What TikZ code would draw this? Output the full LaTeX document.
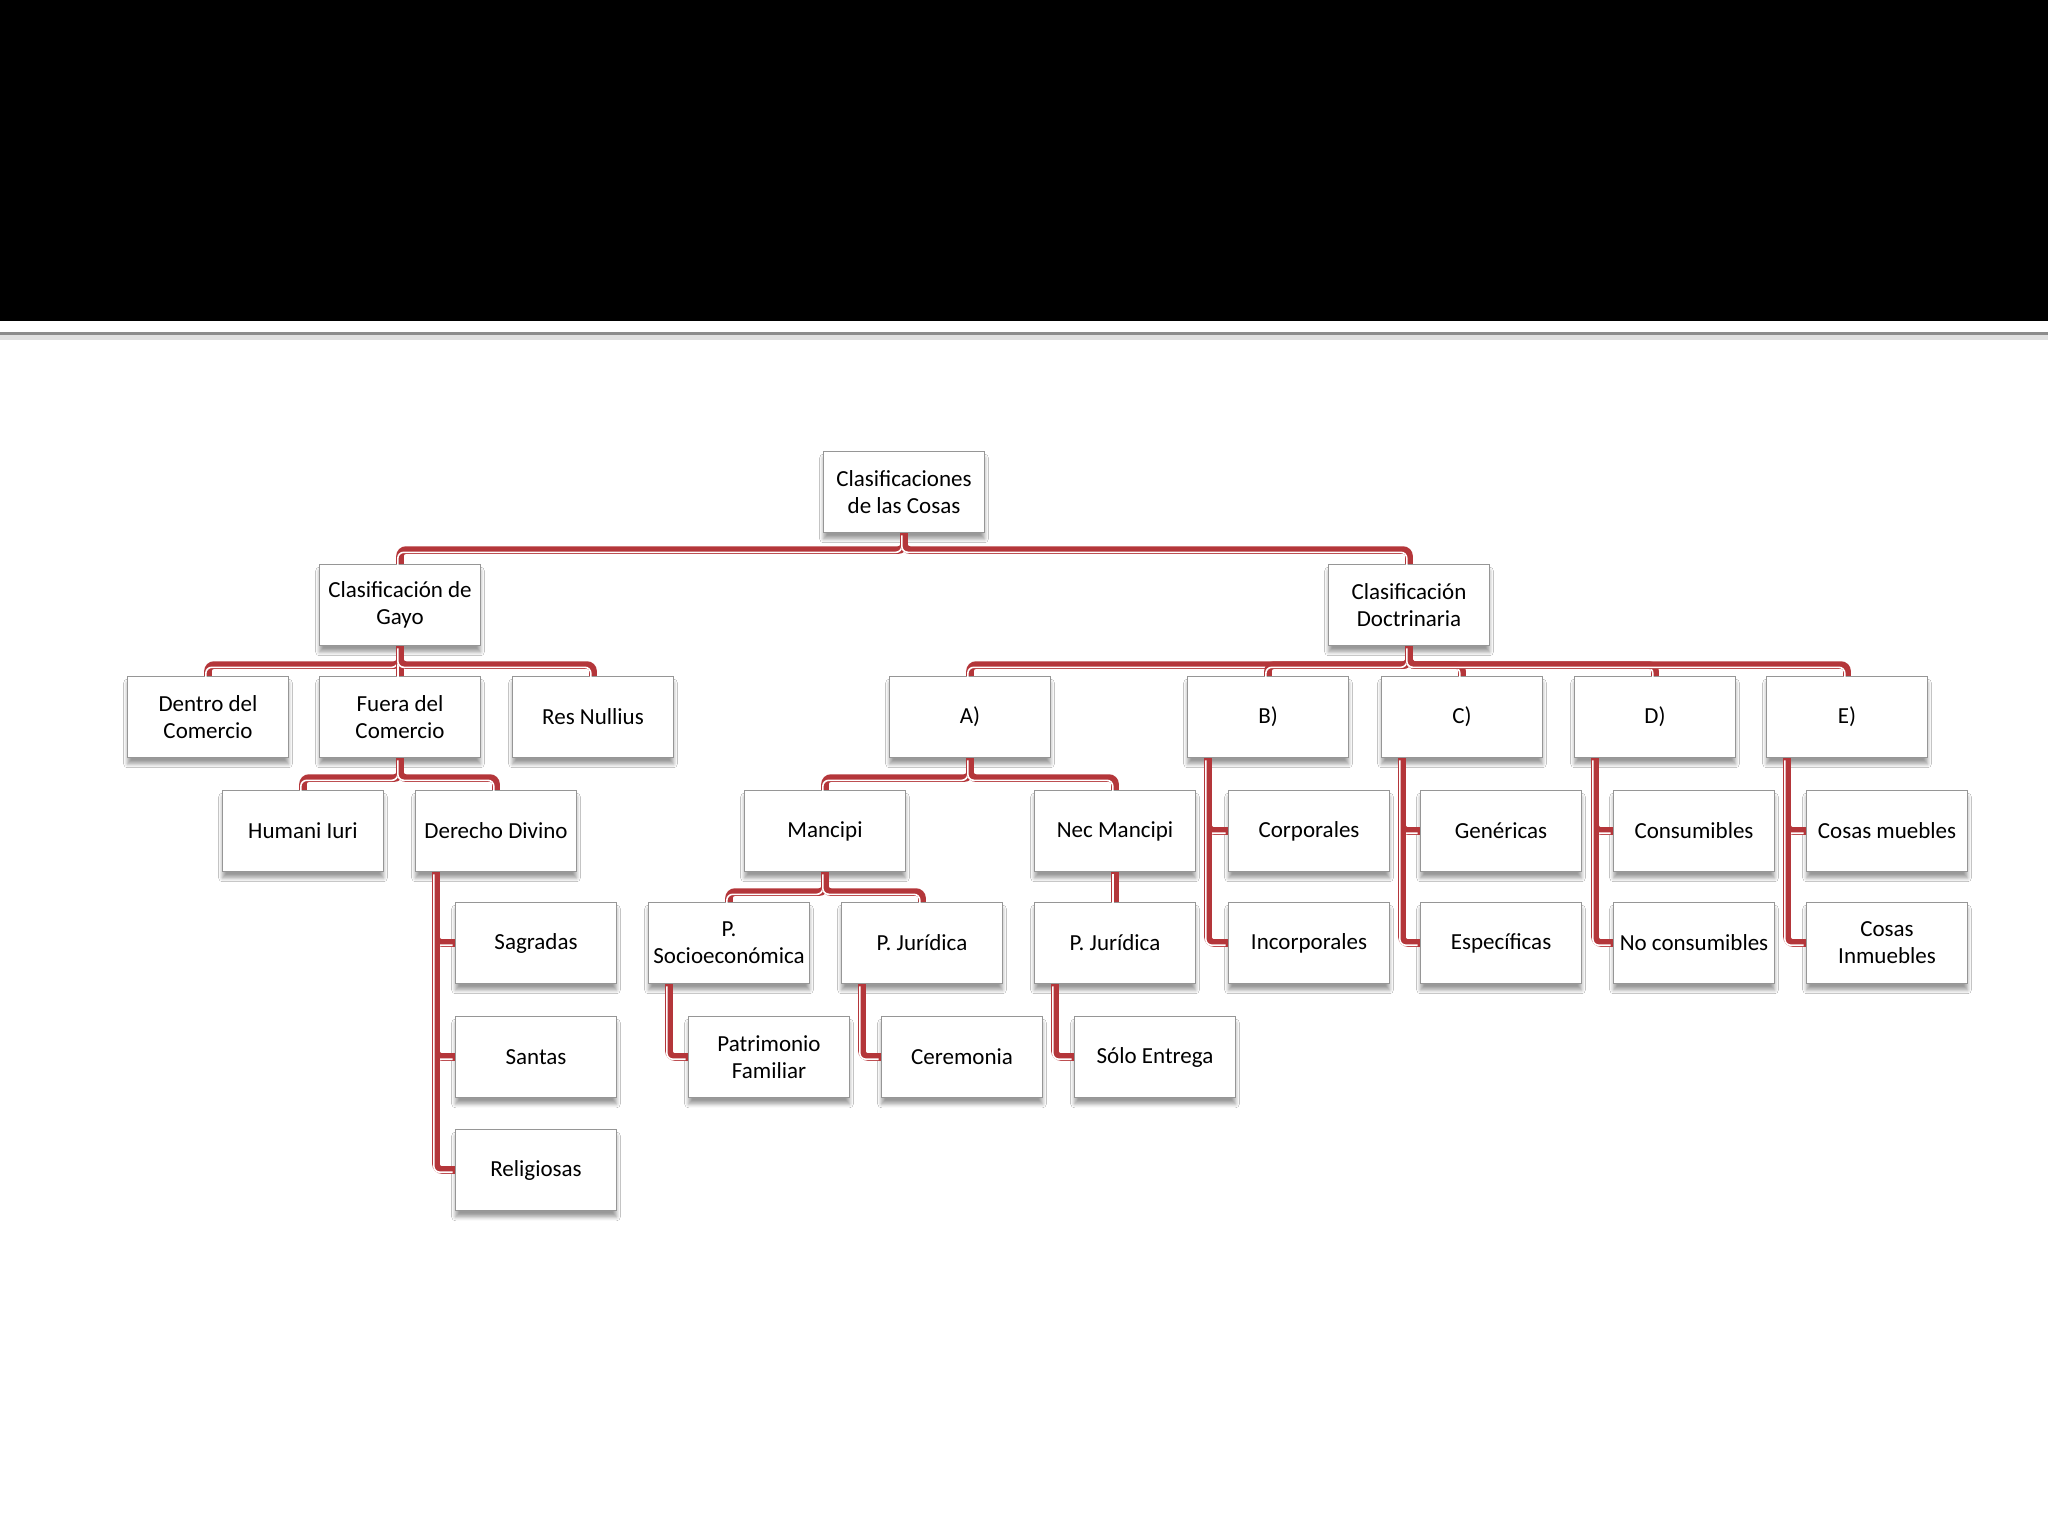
\documentclass[tikz,border=0pt]{standalone}
\usepackage{fontspec}
\setmainfont{Carlito}
\usetikzlibrary{shadows.blur}
\definecolor{linkred}{RGB}{180,54,58}
\definecolor{boxline}{RGB}{150,150,150}
\begin{document}
\begin{tikzpicture}[x=.5pt,y=-.5pt,
  box/.style={draw=boxline,fill=white,line width=.6pt,minimum width=80.5pt,minimum height=40.5pt,
    align=center,inner sep=1pt,font=\fontsize{11.5}{13.5}\selectfont,
    blur shadow={shadow xshift=0pt,shadow yshift=-3.2pt,shadow blur steps=6,shadow opacity=40}},
  link/.style={draw=linkred,line width=3.8pt,rounded corners=3pt,
    postaction={draw=white,line width=.8pt,transform canvas={shift={(-1.1pt,-1.1pt)}}}}]
\useasboundingbox (0,0) rectangle (2048,1536);
\fill[white] (0,0) rectangle (2048,1536);

% TITLE BAND
\fill[black] (0,0) rectangle (2048,321);
\fill[black!12] (0,334) rectangle (2048,340);
\draw[line width=1.5pt,black!45] (0,333)--(2048,333);

% ROOT AND FIRST LEVEL
\node[box] (root) at (904,492) {Clasificaciones\\de las Cosas};
\node[box] (gayo) at (400,605) {Clasificación de\\Gayo};
\node[box] (doct) at (1409,605) {Clasificación\\Doctrinaria};
\draw[link] (root.south) -- ++(0,17) -| (gayo.north);
\draw[link] (root.south) -- ++(0,17) -| (doct.north);

% GAYO
\node[box] (dentro) at (208,717) {Dentro del\\Comercio};
\node[box] (fuera) at (400,717) {Fuera del\\Comercio};
\node[box] (nullius) at (593,717) {Res Nullius};
\foreach \c in {dentro,fuera,nullius}
  \draw[link] (gayo.south) -- ++(0,19) -| (\c.north);
\node[box] (humani) at (303,831) {Humani Iuri};
\node[box] (divino) at (496,831) {Derecho Divino};
\foreach \c in {humani,divino}
  \draw[link] (fuera.south) -- ++(0,20) -| (\c.north);
\node[box] (sagradas) at (536,943) {Sagradas};
\node[box] (santas) at (536,1057) {Santas};
\node[box] (religiosas) at (536,1170) {Religiosas};
\foreach \c in {sagradas,santas,religiosas}
  \draw[link] ([xshift=-30pt]divino.south) |- (\c.west);

% DOCTRINARIA
\node[box] (ca) at (970,717) {A)};
\node[box] (cb) at (1268,717) {B)};
\node[box] (cc) at (1462,717) {C)};
\node[box] (cd) at (1655,717) {D)};
\node[box] (ce) at (1847,717) {E)};
\foreach \c in {ca,cb,cc,cd,ce}
  \draw[link] (doct.south) -- ++(0,19) -| (\c.north);

% A) MANCIPI / NEC MANCIPI
\node[box] (mancipi) at (825,831) {Mancipi};
\node[box] (nec) at (1115,831) {Nec Mancipi};
\foreach \c in {mancipi,nec}
  \draw[link] (ca.south) -- ++(0,20) -| (\c.north);
\node[box] (socio) at (729,943) {P.\\Socioeconómica};
\node[box] (jurA) at (922,943) {P. Jurídica};
\node[box] (jurB) at (1115,943) {P. Jurídica};
\foreach \c in {socio,jurA}
  \draw[link] (mancipi.south) -- ++(0,20) -| (\c.north);
\draw[link] (nec.south) -- (jurB.north);
\node[box] (patrimonio) at (769,1057) {Patrimonio\\Familiar};
\node[box] (ceremonia) at (962,1057) {Ceremonia};
\node[box] (entrega) at (1155,1057) {Sólo Entrega};
\draw[link] ([xshift=-30pt]socio.south) |- (patrimonio.west);
\draw[link] ([xshift=-30pt]jurA.south) |- (ceremonia.west);
\draw[link] ([xshift=-30pt]jurB.south) |- (entrega.west);

% B) TO E)
\node[box] (corp) at (1309,831) {Corporales};
\node[box] (incorp) at (1309,943) {Incorporales};
\node[box] (gen) at (1501,831) {Genéricas};
\node[box] (espec) at (1501,943) {Específicas};
\node[box] (cons) at (1694,831) {Consumibles};
\node[box] (nocons) at (1694,943) {No consumibles};
\node[box] (muebles) at (1887,831) {Cosas muebles};
\node[box] (inmuebles) at (1887,943) {Cosas\\Inmuebles};
\foreach \p/\a/\b in {cb/corp/incorp,cc/gen/espec,cd/cons/nocons,ce/muebles/inmuebles}{
  \draw[link] ([xshift=-30pt]\p.south) |- (\a.west);
  \draw[link] ([xshift=-30pt]\p.south) |- (\b.west);
}
\end{tikzpicture}
\end{document}
